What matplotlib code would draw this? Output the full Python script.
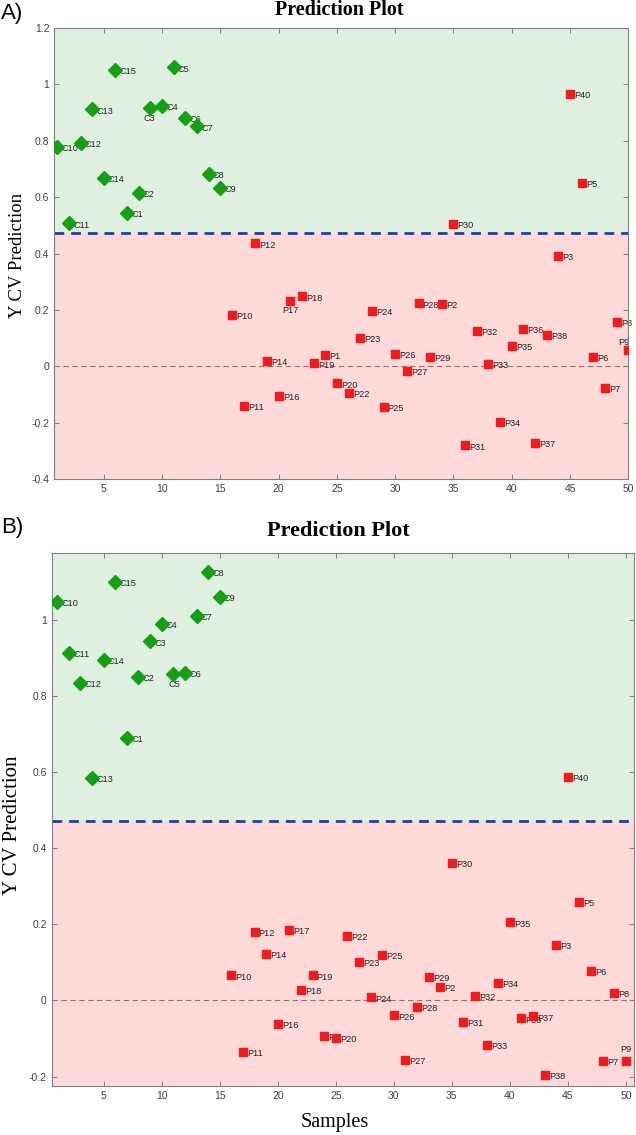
import matplotlib
matplotlib.use("Agg")
import matplotlib.pyplot as plt
import numpy as np

# ---------------- data ----------------
c_labels = [f"C{i}" for i in range(1, 16)]
c_x = [7, 8, 9, 10, 11, 12, 13, 14, 15, 1, 2, 3, 4, 5, 6]
c_yA = [0.543, 0.616, 0.917, 0.923, 1.060, 0.882, 0.851, 0.682, 0.632,
        0.777, 0.507, 0.793, 0.911, 0.667, 1.051]
c_yB = [0.689, 0.850, 0.943, 0.988, 0.858, 0.860, 1.009, 1.126, 1.060,
        1.047, 0.912, 0.834, 0.584, 0.894, 1.099]

p_labels = ["P1", "P2", "P3", "P5", "P6", "P7", "P8", "P9", "P10", "P11", "P12",
            "P14", "P16", "P17", "P18", "P19", "P20", "P22", "P23", "P24", "P25",
            "P26", "P27", "P28", "P29", "P30", "P31", "P32", "P33", "P34", "P35",
            "P36", "P37", "P38", "P40"]
p_x = [24, 34, 44, 46, 47, 48, 49, 50, 16, 17, 18, 19, 20, 21, 22, 23, 25, 26,
       27, 28, 29, 30, 31, 32, 33, 35, 36, 37, 38, 39, 40, 41, 42, 43, 45]
p_yA = [0.039, 0.220, 0.392, 0.649, 0.034, -0.076, 0.157, 0.059, 0.182, -0.141,
        0.436, 0.019, -0.104, 0.230, 0.248, 0.010, -0.061, -0.096, 0.100, 0.195,
        -0.145, 0.043, -0.017, 0.223, 0.033, 0.506, -0.281, 0.124, 0.008, -0.198,
        0.072, 0.132, -0.271, 0.110, 0.967]
p_yB = [-0.094, 0.035, 0.146, 0.259, 0.077, -0.159, 0.021, -0.159, 0.066, -0.135,
        0.179, 0.122, -0.062, 0.185, 0.027, 0.066, -0.099, 0.169, 0.101, 0.008,
        0.119, -0.039, -0.155, -0.016, 0.063, 0.362, -0.056, 0.012, -0.117, 0.047,
        0.205, -0.047, -0.042, -0.195, 0.587]

threshold = 0.472
x_ticks = [5, 10, 15, 20, 25, 30, 35, 40, 45, 50]
y_ticksA = [-0.4, -0.2, 0, 0.2, 0.4, 0.6, 0.8, 1, 1.2]
y_ticksB = [-0.2, 0, 0.2, 0.4, 0.6, 0.8, 1]

# ---------------- style ----------------
GREEN_BG = "#dff0e1"
RED_BG = "#fdd9d9"
GREEN = "#13a013"
RED = "#f51a1a"
BLUE = "#1f3fa8"
ZERO = "#a86a6a"
GRAY = "#808080"
TICKC = "#404040"
SANS = "Liberation Sans"
SERIF = "Liberation Serif"

fig = plt.figure(figsize=(6.36, 11.35), dpi=100)

W, H = 636, 1135


def ax_rect(l, t, r, b):
    return [l / W, 1 - b / H, (r - l) / W, (b - t) / H]


def fmt(v):
    return f"{v:g}"


def draw_panel(ax, yc, yp, ylim, xlim, yticks, special):
    ax.set_xlim(*xlim)
    ax.set_ylim(*ylim)
    ax.axhspan(threshold, ylim[1] + 1, color=GREEN_BG, zorder=0, lw=0)
    ax.axhspan(ylim[0] - 1, threshold, color=RED_BG, zorder=0, lw=0)
    ax.axhline(0, color=ZERO, lw=0.8, ls=(0, (5, 3)), zorder=1)
    ax.axhline(threshold, color=BLUE, lw=2.0, ls=(0, (3.5, 2.5)), zorder=2)
    ax.plot(c_x, yc, ls="none", marker="D", ms=7, color=GREEN, mec=GREEN, zorder=3)
    ax.plot(p_x, yp, ls="none", marker="s", ms=5.8, color=RED, mec=RED, zorder=3)
    for lab, x, y in list(zip(c_labels, c_x, yc)) + list(zip(p_labels, p_x, yp)):
        if lab in special:
            dx, dy, ha = special[lab]
        else:
            dx, dy, ha = 3, -1.2, "left"
        ax.annotate(lab, (x, y), xytext=(dx, dy), textcoords="offset points",
                    ha=ha, va="center", fontsize=6.6, family=SANS,
                    color="#222222", zorder=2.5, annotation_clip=False)
    ax.set_xticks(x_ticks)
    ax.set_xticklabels([fmt(v) for v in x_ticks])
    ax.set_yticks(yticks)
    ax.set_yticklabels([fmt(v) for v in yticks])
    ax.tick_params(direction="in", length=3.5, width=0.7, color=GRAY,
                   top=True, right=True, labelsize=7.5, labelcolor=TICKC)
    for lab in ax.get_xticklabels() + ax.get_yticklabels():
        lab.set_family(SANS)
    for s in ax.spines.values():
        s.set_color(GRAY)
        s.set_linewidth(0.8)


# Panel A
axA = fig.add_axes(ax_rect(54.3, 28, 628.3, 479))
draw_panel(axA, c_yA, p_yA, (-0.4, 1.2), (0.75, 50), y_ticksA,
           {"C3": (-0.5, -7.5, "center"), "P17": (0, -6.5, "center"),
            "P9": (-3, 5, "center")})
fig.text(339 / W, 1 - 10 / H, "Prediction Plot", ha="center", va="center",
         family=SERIF, fontsize=14.5, fontweight="bold")
fig.text(18 / W, 1 - 255 / H, "Y CV Prediction", ha="center", va="center",
         rotation=90, family=SERIF, fontsize=13.5)
fig.text(1 / W, 1 - 13 / H, "A)", ha="left", va="center", family=SANS, fontsize=16)

# Panel B
axB = fig.add_axes(ax_rect(51.7, 553, 634, 1086))
draw_panel(axB, c_yB, p_yB, (-0.2245, 1.175), (0.52, 50.7), y_ticksB,
           {"C5": (0.8, -8, "center"), "P9": (0, 8, "center")})
fig.text(338 / W, 1 - 531 / H, "Prediction Plot", ha="center", va="center",
         family=SERIF, fontsize=16, fontweight="bold")
fig.text(13 / W, 1 - 825 / H, "Y CV Prediction", ha="center", va="center",
         rotation=90, family=SERIF, fontsize=15)
fig.text(335 / W, 1 - 1122 / H, "Samples", ha="center", va="center",
         family=SERIF, fontsize=14.5)
fig.text(1 / W, 1 - 527 / H, "B)", ha="left", va="center", family=SANS, fontsize=16)

fig.savefig("out.png", dpi=100)
